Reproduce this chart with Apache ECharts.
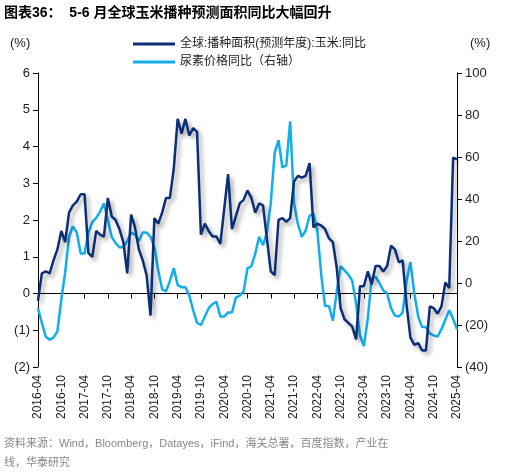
<!DOCTYPE html>
<html>
<head>
<meta charset="utf-8">
<script src="https://cdn.jsdelivr.net/npm/echarts@6/dist/echarts.min.js"></script>
<style>
  html, body { margin: 0; padding: 0; background: #fff; }
  #chart { width: 506px; height: 475px; }
</style>
</head>
<body>
<div id="chart"></div>
<script>
// 数据：2016-04 ~ 2025-04 月度
const cornArea = [
  -0.2, 0.55, 0.6, 0.55, 0.9, 1.2, 1.7, 1.4, 2.2, 2.4, 2.5, 2.7,
  2.7, 1.1, 1.0, 1.7, 1.6, 1.55, 2.6, 2.1, 2.0, 1.75, 1.4, 0.55,
  2.15, 1.8, 1.2, 0.9, 0.5, -0.6, 2.05, 1.9, 2.2, 2.6, 2.6, 3.4,
  4.75, 4.35, 4.75, 4.3, 4.5, 4.4, 1.6, 1.9, 1.7, 1.55, 1.55, 1.35,
  2.3, 3.25, 1.75, 2.1, 2.45, 2.55, 2.8, 2.6, 2.2, 2.45, 2.4, 1.5,
  0.6, 0.5, 2.0, 2.05, 1.95, 2.05, 3.05, 3.2, 3.15, 3.2, 3.55, 1.8,
  1.9, 1.85, 1.75, 1.5, 1.4, 0.7, -0.4, -0.7, -0.8, -0.9, -1.25, 0.2,
  0.2, 0.6, 0.25, 0.75, 0.75, 0.6, 0.75, 1.3, 1.2, 0.85, 0.9, -0.3,
  -1.2, -1.4, -1.35, -1.55, -1.55, -0.35, -0.4, -0.55, -0.35, 0.3, 0.15, 3.7,
  3.65
];
const ureaPrice = [
  -12, -19, -25.6, -27, -26, -23, -8, 5, 22, 27, 24, 14,
  14, 24, 29, 31, 34, 38, 30, 22, 19, 17, 17, 20,
  24, 23, 20, 24, 24, 22, 17, 6, -3, -4, 1, 7,
  -1, -2, -2, -6, -13, -19, -20, -16, -12, -10, -9, -16,
  -16, -14, -14, -7, -6, -4, 7, 8, 14, 22, 18, 24,
  38, 62, 68, 55, 56, 77, 38, 28, 22, 25, 32, 33,
  25, 4, -11, -11, -18, -4, 8, 6, 4, 1, -10, -25,
  -30, -17, 2, 3, 0, -3.5, -5, -12, -15.5, -16, -14, 1,
  10, -5, -16, -21, -21, -24, -25, -25.5, -22, -17.5, -13, -17,
  -22
];
const months = [];
for (let y = 2016, m = 4; months.length < cornArea.length; m++) {
  if (m > 12) { m = 1; y++; }
  months.push(y + '-' + String(m).padStart(2, '0'));
}
const seriesNames = ['全球:播种面积(预测年度):玉米:同比', '尿素价格同比（右轴）'];

const font = 'Arial, "Liberation Sans", "Noto Sans CJK SC", sans-serif';
const neg = v => (v < 0 ? '(' + Math.abs(v) + ')' : String(v));

const chart = echarts.init(document.getElementById('chart'));
chart.setOption({
  animation: false,
  textStyle: { fontFamily: font },
  grid: { left: 38, right: 49, top: 73, bottom: 108 },
  legend: {
    orient: 'vertical', left: 128, top: 33, itemGap: 6,
    itemWidth: 42, itemHeight: 3, icon: 'rect',
    textStyle: { fontSize: 12, color: '#222' },
    data: seriesNames
  },
  xAxis: [
    {
      type: 'category', data: months, boundaryGap: false, position: 'bottom',
      axisLine: { show: false, onZero: false }, axisTick: { show: false },
      axisLabel: { rotate: 90, interval: 5, fontSize: 12, color: '#222', margin: 8 }
    },
    {
      type: 'category', data: months, boundaryGap: false, position: 'bottom',
      axisLine: { onZero: true, onZeroAxisIndex: 0, lineStyle: { color: '#000', width: 1 } },
      axisTick: { interval: 5, length: 5, lineStyle: { color: '#000' } },
      axisLabel: { show: false }
    }
  ],
  yAxis: [
    {
      type: 'value', min: -2, max: 6, interval: 1,
      axisLine: { show: true, lineStyle: { color: '#000' } },
      axisTick: { show: true, length: 5 },
      splitLine: { show: false },
      axisLabel: { formatter: neg, fontSize: 13, color: '#222' }
    },
    {
      type: 'value', min: -40, max: 100, interval: 20,
      axisLine: { show: true, lineStyle: { color: '#000' } },
      axisTick: { show: true, length: 5 },
      splitLine: { show: false },
      axisLabel: { formatter: neg, fontSize: 13, color: '#222' }
    }
  ],
  series: [
    {
      name: seriesNames[1], type: 'line', yAxisIndex: 1, data: ureaPrice,
      showSymbol: false, color: '#12aeea', lineStyle: { width: 2.5 }
    },
    {
      name: seriesNames[0], type: 'line', yAxisIndex: 0, data: cornArea,
      showSymbol: false, color: '#0b2f74',
      lineStyle: { width: 2.5, shadowColor: 'rgba(0,0,0,0.35)', shadowBlur: 4, shadowOffsetX: 3, shadowOffsetY: 3 }
    }
  ],
  graphic: [
    { type: 'text', left: 4, top: 6, style: { text: '图表36：  5-6 月全球玉米播种预测面积同比大幅回升', fontSize: 14, fontWeight: 'bold', fill: '#000', fontFamily: font } },
    { type: 'text', left: 10, top: 37, style: { text: '(%)', fontSize: 13, fill: '#222', fontFamily: font } },
    { type: 'text', left: 470, top: 37, style: { text: '(%)', fontSize: 13, fill: '#222', fontFamily: font } },
    { type: 'text', left: 4, top: 434, style: { text: '资料来源：Wind，Bloomberg，Datayes，iFind，海关总署，百度指数，产业在\n线，华泰研究', fontSize: 11, lineHeight: 19, fill: '#888', fontFamily: font } }
  ]
});
</script>
</body>
</html>
